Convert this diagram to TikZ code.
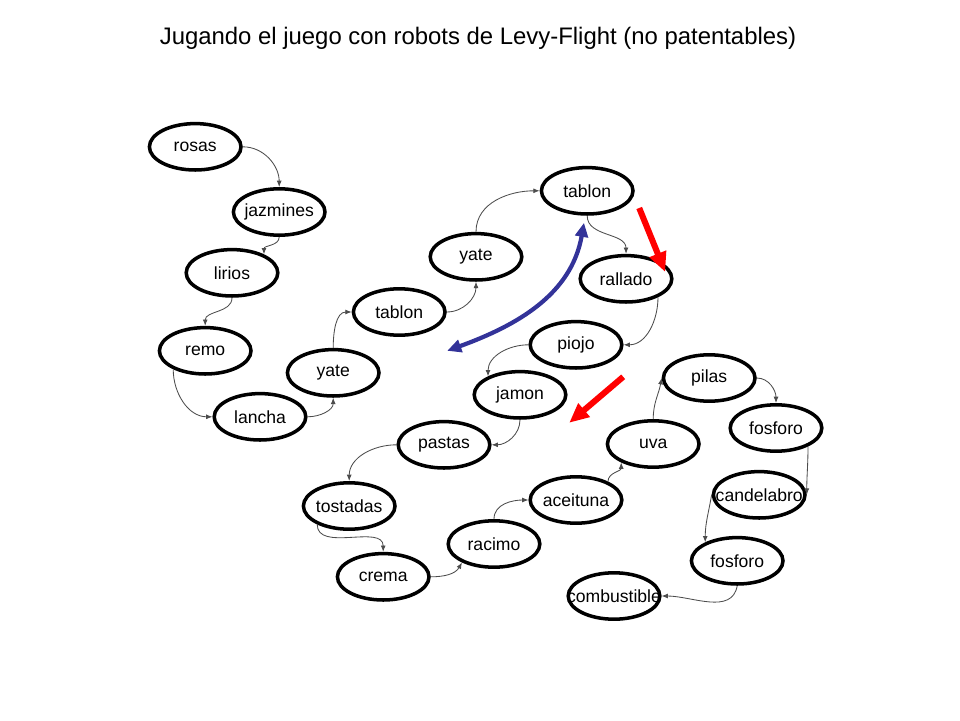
\documentclass[tikz,border=0pt]{standalone}
\usepackage{fontspec}
\setmainfont{Liberation Sans}
\usetikzlibrary{arrows.meta, shapes.geometric}
\definecolor{arcblue}{RGB}{51,51,153}
\definecolor{hintred}{RGB}{255,0,0}

\begin{document}
\begin{tikzpicture}[
  word/.style={draw, ellipse, line width=2.5pt, minimum width=2.29cm, minimum height=1.16cm, inner sep=0pt,
    font=\fontsize{12.5}{15}\selectfont,
    execute at begin node={\hbox to 0pt\bgroup\hss}, execute at end node={\hss\egroup}},
  link/.style={draw=black!70, line width=0.6pt, -{Latex[length=4.5pt,width=3.5pt]}},
  hint/.style={hintred, line width=4.3pt, -{Triangle[length=14pt,width=12pt]}}
]
\useasboundingbox (0,0) rectangle (24,18);
\node (title) at (11.95,17.05) {\fontsize{17}{20}\selectfont Jugando el juego con robots de Levy-Flight (no patentables)};

% first walk
\node[word] (rosas) at (4.88,14.33) {rosas};
\node[word] (jazmines) at (6.98,12.7) {jazmines};
\node[word] (lirios) at (5.8,11.18) {lirios};
\node[word] (remo) at (5.13,9.23) {remo};
\node[word] (lancha) at (6.5,7.58) {lancha};
\node[word] (yateA) at (8.33,8.68) {yate};
\node[word] (tablonA) at (9.98,10.2) {tablon};
\node[word] (yateB) at (11.9,11.58) {yate};
\node[word] (tablonB) at (14.68,13.23) {tablon};

% jump and second walk
\node[word] (rallado) at (15.65,11.03) {rallado};
\node[word] (piojo) at (14.4,9.38) {piojo};
\node[word] (jamon) at (13,8.13) {jamon};
\node[word] (pastas) at (11.1,6.88) {pastas};
\node[word] (tostadas) at (8.73,5.35) {tostadas};
\node[word] (crema) at (9.58,3.58) {crema};
\node[word] (racimo) at (12.35,4.4) {racimo};
\node[word] (aceituna) at (14.4,5.5) {aceituna};
\node[word] (uva) at (16.33,6.9) {uva};
\node[word] (pilas) at (17.73,8.55) {pilas};
\node[word] (fosforoA) at (19.4,7.3) {fosforo};
\node[word] (candelabro) at (18.98,5.63) {candelabro};
\node[word] (fosforoB) at (18.43,3.98) {fosforo};
\node[word] (combustible) at (15.35,3.1) {combustible};

\foreach \a/\b/\o/\i in {rosas.east/jazmines.north/0/90, jazmines.south/lirios.30/-90/90,
    lirios.south/remo.north/-90/90, remo.210/lancha.west/-90/180, lancha.east/yateA.south/0/-90,
    yateA.north/tablonA.west/90/180, tablonA.east/yateB.south/0/-90, yateB.north/tablonB.west/90/180,
    tablonB.south/rallado.north/-90/90, rallado.-30/piojo.east/-90/0, piojo.west/jamon.150/180/90,
    jamon.south/pastas.east/-90/0, pastas.west/tostadas.north/180/90, tostadas.210/crema.north/-90/90,
    crema.east/racimo.210/0/240, racimo.north/aceituna.west/90/180, aceituna.30/uva.210/90/-90,
    uva.north/pilas.west/90/-100, pilas.east/fosforoA.north/0/90, fosforoA.-30/candelabro.east/-90/90,
    candelabro.west/fosforoB.150/-100/90, fosforoB.south/combustible.east/-100/0} {
  \draw[link] (\a) to[out=\o,in=\i] (\b);
}

% long jump
\coordinate (jumpA) at (11.18,9.23);
\coordinate (jumpB) at (14.6,12.43);
\draw[arcblue, line width=3pt, {Triangle[length=10pt,width=9pt]}-{Triangle[length=10pt,width=9pt]}] (jumpA) to[out=20,in=-100] (jumpB);

% pointers
\coordinate (hintA) at (15.98,12.8);
\coordinate (hintAend) at (16.63,11.2);
\coordinate (hintB) at (15.58,8.58);
\coordinate (hintBend) at (14.23,7.43);
\draw[hint] (hintA) -- (hintAend);
\draw[hint] (hintB) -- (hintBend);
\end{tikzpicture}
\end{document}
